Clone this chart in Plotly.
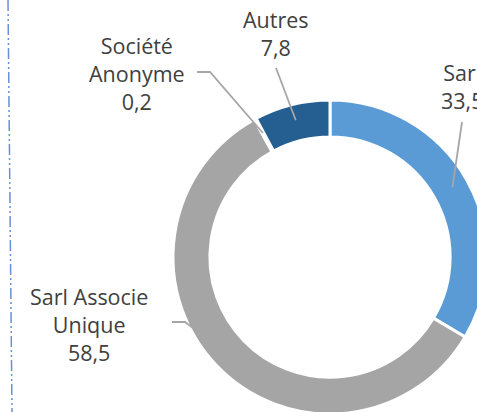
import math
import plotly.graph_objects as go

# ---- data ----
categories = ["Sarl", "Sarl Associe Unique", "Société Anonyme", "Autres"]
label_lines = ["Sarl", "Sarl Associe<br>Unique", "Société<br>Anonyme", "Autres"]
values = [33.5, 58.5, 0.2, 7.8]
colors = ["#5B9BD5", "#A5A5A5", "#8C8C8C", "#255E91"]

# ---- layout geometry (pixels) ----
W, H = 490, 425           # figure a bit larger than the window -> right/bottom cropped
cx, cy, R = 330, 257, 157
hole = 0.765
r_lead = 141              # leader line end radius

def px2paper(x, y):
    return x / W, 1 - y / H

def slice_point(frac, r):
    a = 2 * math.pi * frac
    return cx + r * math.sin(a), cy - r * math.cos(a)

total = sum(values)
mids = []
acc = 0
for v in values:
    mids.append((acc + v / 2) / total)
    acc += v

fig = go.Figure(go.Pie(
    labels=categories, values=values, sort=False, direction="clockwise", rotation=0,
    hole=hole, marker=dict(colors=colors, line=dict(color="white", width=3)),
    textinfo="none", showlegend=False,
    domain=dict(x=[(cx - R) / W, (cx + R) / W], y=[1 - (cy + R) / H, 1 - (cy - R) / H]),
))

# label text positions (px) and leader-line start points (px)
label_pos = [(462, 86), (89, 324), (137, 74), (276, 34)]
lead_start = [[(462, 122)], [(172, 322), (185, 322)], [(197, 72), (210, 72)], [(276, 68)]]

shapes = []
annotations = []
for i, (lbl, v) in enumerate(zip(label_lines, values)):
    txt = f"{lbl}<br>{str(v).replace('.', ',')}"
    x, y = px2paper(*label_pos[i])
    annotations.append(dict(x=x, y=y, xref="paper", yref="paper", text=txt, showarrow=False,
                            xanchor="center", yanchor="middle", align="center",
                            font=dict(family="Open Sans", size=21.5, color="#404040")))
    pts = lead_start[i] + [slice_point(mids[i], r_lead)]
    path = "M " + " L ".join(f"{px2paper(a, b)[0]:.5f},{px2paper(a, b)[1]:.5f}" for a, b in pts)
    shapes.append(dict(type="path", path=path, xref="paper", yref="paper",
                       line=dict(color="#A6A6A6", width=1.8)))

# dashed border line at the left
x0, y0 = px2paper(8, 0)
x1, y1 = px2paper(12, 412)
shapes.append(dict(type="line", x0=x0, y0=y0, x1=x1, y1=y1, xref="paper", yref="paper",
                   line=dict(color="#6A8ED8", width=1.5, dash="11px,3px,2px,3px,2px,3px")))

fig.update_layout(width=W, height=H, autosize=False,
                  margin=dict(l=0, r=0, t=0, b=0),
                  paper_bgcolor="white", plot_bgcolor="white",
                  shapes=shapes, annotations=annotations)

fig.write_html("out.html", config={"displayModeBar": False},
               post_script="document.documentElement.style.overflow='hidden';"
                           "document.body.style.overflow='hidden';"
                           "document.body.style.margin='0';")
